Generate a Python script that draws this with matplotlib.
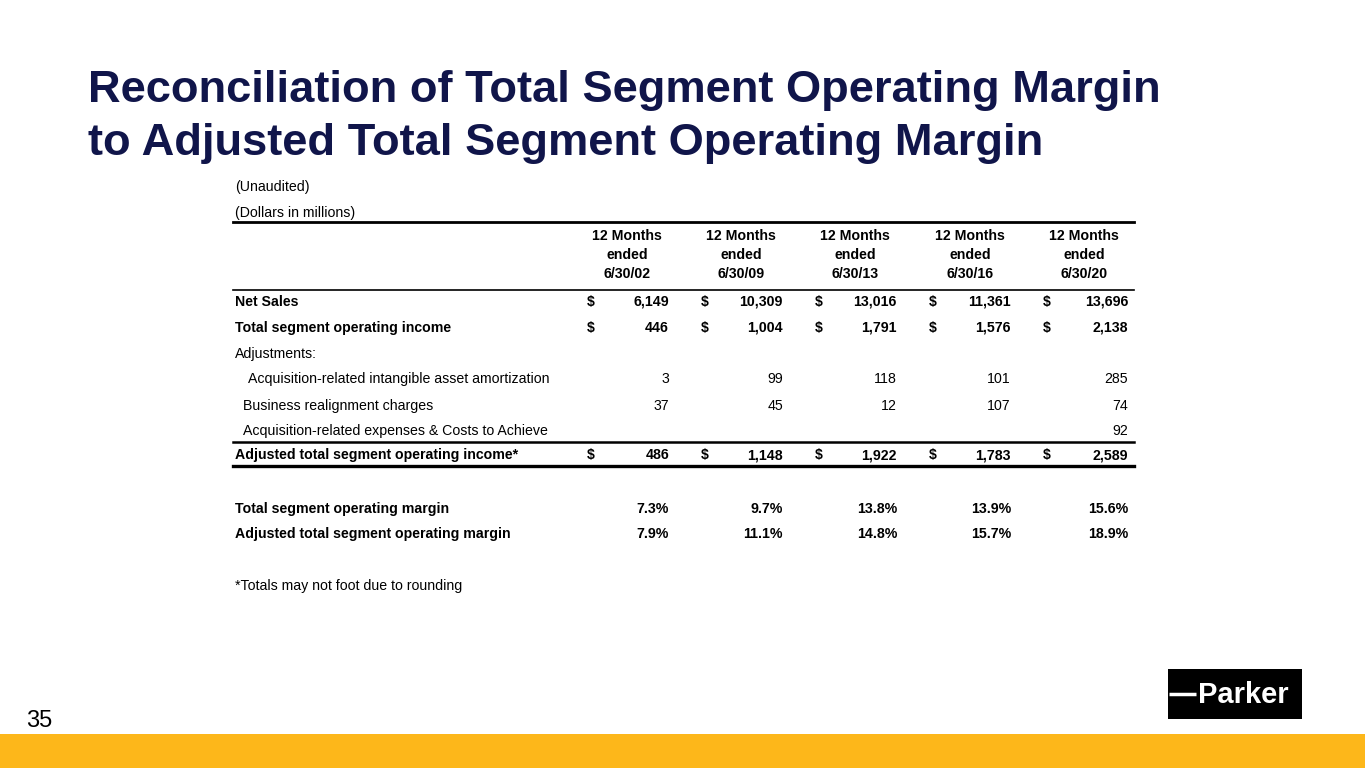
import matplotlib.pyplot as plt
from matplotlib.patches import Rectangle

plt.rcParams['font.family'] = ['Liberation Sans', 'DejaVu Sans']

# Table data (dollars in millions)
periods = ['6/30/02', '6/30/09', '6/30/13', '6/30/16', '6/30/20']
net_sales = [6149, 10309, 13016, 11361, 13696]
seg_income = [446, 1004, 1791, 1576, 2138]
amortization = [3, 99, 118, 101, 285]
realignment = [37, 45, 12, 107, 74]
acq_expenses = [None, None, None, None, 92]
adj_income = [486, 1148, 1922, 1783, 2589]
seg_margin = [7.3, 9.7, 13.8, 13.9, 15.6]
adj_margin = [7.9, 11.1, 14.8, 15.7, 18.9]

navy = '#10154a'
yellow = '#fdb71a'

fig = plt.figure(figsize=(13.65, 7.68), dpi=100)
ax = fig.add_axes([0, 0, 1, 1])
ax.set_xlim(0, 1365)
ax.set_ylim(768, 0)
ax.axis('off')

# Title
ax.text(88, 102, 'Reconciliation of Total Segment Operating Margin', fontsize=32.6,
        fontweight='bold', color=navy, va='baseline', ha='left')
ax.text(88, 155, 'to Adjusted Total Segment Operating Margin', fontsize=32.6,
        fontweight='bold', color=navy, va='baseline', ha='left')

fs = 10.2
ax.text(235, 187, '(Unaudited)', fontsize=fs, va='center')
ax.text(235, 213, '(Dollars in millions)', fontsize=fs, va='center')

left, right = 233, 1134
ax.plot([left, right], [222, 222], color='black', lw=2)
ax.plot([left, right], [290, 290], color='black', lw=1.2)

dollar_x = [591, 705, 819, 933, 1047]
value_x = [669, 783, 897, 1011, 1128]
head_x = [627, 741, 855, 970, 1084]

for hx, p in zip(head_x, periods):
    ax.text(hx, 236, '12 Months', fontsize=fs, fontweight='bold', ha='center', va='center')
    ax.text(hx, 255, 'ended', fontsize=fs, fontweight='bold', ha='center', va='center')
    ax.text(hx, 274, p, fontsize=fs, fontweight='bold', ha='center', va='center')


def row(y, label, values, lx=235, bold=False, dollar=False, fmt='{:,}'):
    w = 'bold' if bold else 'normal'
    ax.text(lx, y, label, fontsize=fs, fontweight=w, va='center')
    for dx, vx, v in zip(dollar_x, value_x, values):
        if v is None:
            continue
        if dollar:
            ax.text(dx, y, '$', fontsize=fs, fontweight=w, va='center', ha='center')
        ax.text(vx, y, fmt.format(v), fontsize=fs, fontweight=w, va='center', ha='right')


row(302, 'Net Sales', net_sales, bold=True, dollar=True)
row(328, 'Total segment operating income', seg_income, bold=True, dollar=True)
ax.text(235, 354, 'Adjustments:', fontsize=fs, va='center')
row(379, 'Acquisition-related intangible asset amortization', amortization, lx=248)
row(406, 'Business realignment charges', realignment, lx=243)
row(431, 'Acquisition-related expenses & Costs to Achieve', acq_expenses, lx=243)
ax.plot([left, right], [442, 442], color='black', lw=1.8)
row(455, 'Adjusted total segment operating income*', adj_income, bold=True, dollar=True)
ax.plot([left, right], [466, 466], color='black', lw=2.4)
row(509, 'Total segment operating margin', seg_margin, bold=True, fmt='{:.1f}%')
row(534, 'Adjusted total segment operating margin', adj_margin, bold=True, fmt='{:.1f}%')
ax.text(235, 586, '*Totals may not foot due to rounding', fontsize=fs, va='center')

# Page number and footer band
ax.text(26, 727, '35', fontsize=17, va='baseline', ha='left')
ax.add_patch(Rectangle((0, 734), 1365, 34, color=yellow, lw=0))

# Logo
ax.add_patch(Rectangle((1168, 669), 134, 50, color='black', lw=0))
ax.plot([1169, 1196], [694, 694], color='white', lw=2.5, solid_capstyle='butt')
ax.text(1198, 695, 'Parker', fontsize=21, fontweight='bold', color='white',
        ha='left', va='center')

fig.savefig('out.png', dpi=100)
